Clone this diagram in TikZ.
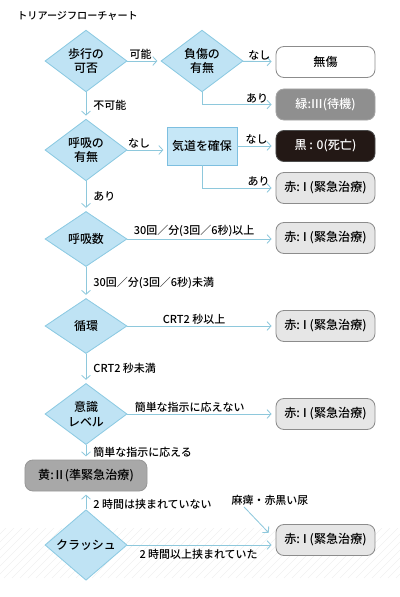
\documentclass[tikz,border=0pt]{standalone}
\usepackage{fontspec}
\setmainfont{Noto Sans CJK JP}[UprightFont=* Medium]
\newfontfamily\tagfont{Noto Sans CJK JP}[UprightFont=* Medium, RawFeature=+palt]
\usetikzlibrary{shapes.geometric, arrows.meta, positioning}

\newcommand{\rnum}[2]{\kern-#1em#2\kern-#1em}

\definecolor{dfill}{HTML}{BFE3F4}
\definecolor{dline}{HTML}{8CCAE2}
\definecolor{aline}{HTML}{8EC8DC}
\definecolor{afill}{HTML}{C6E7F7}
\definecolor{aedge}{HTML}{7DBFE0}
\definecolor{tagedge}{HTML}{8C8C8C}
\definecolor{greenfill}{HTML}{8F8F8F}
\definecolor{blackfill}{HTML}{231815}
\definecolor{redfill}{HTML}{E6E6E6}
\definecolor{yellowfill}{HTML}{A8A8A8}

\begin{document}
\begin{tikzpicture}[x=0.025cm, y=-0.025cm,
    check/.style={diamond, draw=dline, fill=dfill, line width=0.6pt, minimum width=2.05cm, minimum height=1.375cm, inner sep=0pt, align=center, font=\fontsize{8.5}{10.5}\selectfont},
    act/.style={rectangle, draw=aedge, fill=afill, line width=0.6pt, minimum width=1.75cm, minimum height=0.95cm, font=\fontsize{8.5}{10}\selectfont},
    tag/.style={rectangle, rounded corners=2mm, draw=tagedge, line width=0.6pt, minimum width=2.475cm, minimum height=0.775cm, font=\tagfont\fontsize{8.6}{10}\selectfont},
    lbl/.style={font=\fontsize{7.8}{9}\selectfont, inner sep=1pt},
    arr/.style={draw=aline, line width=0.6pt, -{Straight Barb[length=1mm, width=2.2mm]}, shorten >=0.08cm},
    hatch/.style={draw=black!6, line width=0.4pt}
]
    \useasboundingbox (0,0) rectangle (400,597);

    % Background hatching
    \begin{scope}
        \clip (0,528) rectangle (400,578);
        \foreach \k in {0,...,58} {
            \draw[hatch] (\k*8-60, 578) -- (\k*8, 518);
        }
    \end{scope}

    % Title
    \node[anchor=west, inner sep=0pt, font=\fontsize{7.2}{8}\selectfont] (title) at (17,16) {トリアージフローチャート};

    % Decisions
    \node[check] (d1) at (86,61) {歩行の\\可否};
    \node[check] (d2) at (202,61) {負傷の\\有無};
    \node[check] (d3) at (86,150) {呼吸の\\有無};
    \node[check] (d4) at (86,239) {呼吸数};
    \node[check] (d5) at (86,326) {循環};
    \node[check] (d6) at (86,414) {意識\\レベル};
    \node[check] (d7) at (86,545) {クラッシュ};

    % Airway
    \node[act] (airway) at (202,146) {気道を確保};

    % Triage tags
    \node[tag, fill=white] (t0) at (325.5,62) {無傷};
    \node[tag, fill=greenfill, draw=greenfill!80, text=white] (t1) at (325.5,104.5) {緑:\rnum{0.02}{Ⅲ}(待機)};
    \node[tag, fill=blackfill, draw=black!70, text=white] (t2) at (325.5,146) {黒 : 0(死亡)};
    \node[tag, fill=redfill] (t3) at (325.5,188) {赤:\rnum{0.1}{Ⅰ}(緊急治療)};
    \node[tag, fill=redfill] (t4) at (325.5,238) {赤:\rnum{0.1}{Ⅰ}(緊急治療)};
    \node[tag, fill=redfill] (t5) at (325.5,326) {赤:\rnum{0.1}{Ⅰ}(緊急治療)};
    \node[tag, fill=redfill] (t6) at (325.5,414) {赤:\rnum{0.1}{Ⅰ}(緊急治療)};
    \node[tag, fill=yellowfill, draw=yellowfill!90!black, minimum width=3.05cm] (ty) at (86,475.5) {黄:\rnum{0.05}{Ⅱ}(準緊急治療)};
    \node[tag, fill=redfill] (t7) at (325.5,540) {赤:\rnum{0.1}{Ⅰ}(緊急治療)};

    \node[lbl] (mahi) at (270,500) {麻痺・赤黒い尿};

    % Arrows
    \draw[arr] (d1) -- node[lbl, above, pos=0.4] {可能} (d2);
    \draw[arr, shorten >=0.1cm] (d2) -- node[lbl, above] {なし} (t0);
    \draw[arr, shorten >=0.1cm] (d2.south) |- node[lbl, above, pos=0.875] {あり} (t1.west);
    \draw[arr] (d1) -- node[lbl, right=4pt] {不可能} (d3);
    \draw[arr] (d3.east) -- node[lbl, above, pos=0.3] {なし} (d3.east -| airway.west);
    \draw[arr, shorten >=0.1cm] (airway.east |- t2.west) -- node[lbl, above] {なし} (t2.west);
    \draw[arr, shorten >=0.1cm] (airway.south) |- node[lbl, above, pos=0.885] {あり} (t3.west);
    \draw[arr] (d3) -- node[lbl, right=4pt] {あり} (d4);
    \draw[arr, shorten >=0.1cm] (d4.east) -- node[lbl, above, pos=0.45] {30回／分(3回／6秒)以上} (d4.east -| t4.west);
    \draw[arr] (d4) -- node[lbl, right=4pt] {30回／分(3回／6秒)未満} (d5);
    \draw[arr, shorten >=0.1cm] (d5) -- node[lbl, above, pos=0.45] {CRT2 秒以上} (t5);
    \draw[arr] (d5) -- node[lbl, right=4pt] {CRT2 秒未満} (d6);
    \draw[arr, shorten >=0.1cm] (d6) -- node[lbl, above, pos=0.42] {簡単な指示に応えない} (t6);
    \draw[arr] (d6) -- node[lbl, right=4pt] {簡単な指示に応える} (ty);
    \draw[arr] (d7) -- node[lbl, right=4pt, pos=0.3] {2 時間は挟まれていない} (ty);
    \draw[arr, shorten >=0.1cm] (d7.east) -- node[lbl, below=2pt, pos=0.48] {2 時間以上挟まれていた} (d7.east -| t7.west);
    \draw[arr, shorten >=0.25cm] ([xshift=0.35cm]mahi.south west) -- (t7.west);
\end{tikzpicture}
\end{document}
